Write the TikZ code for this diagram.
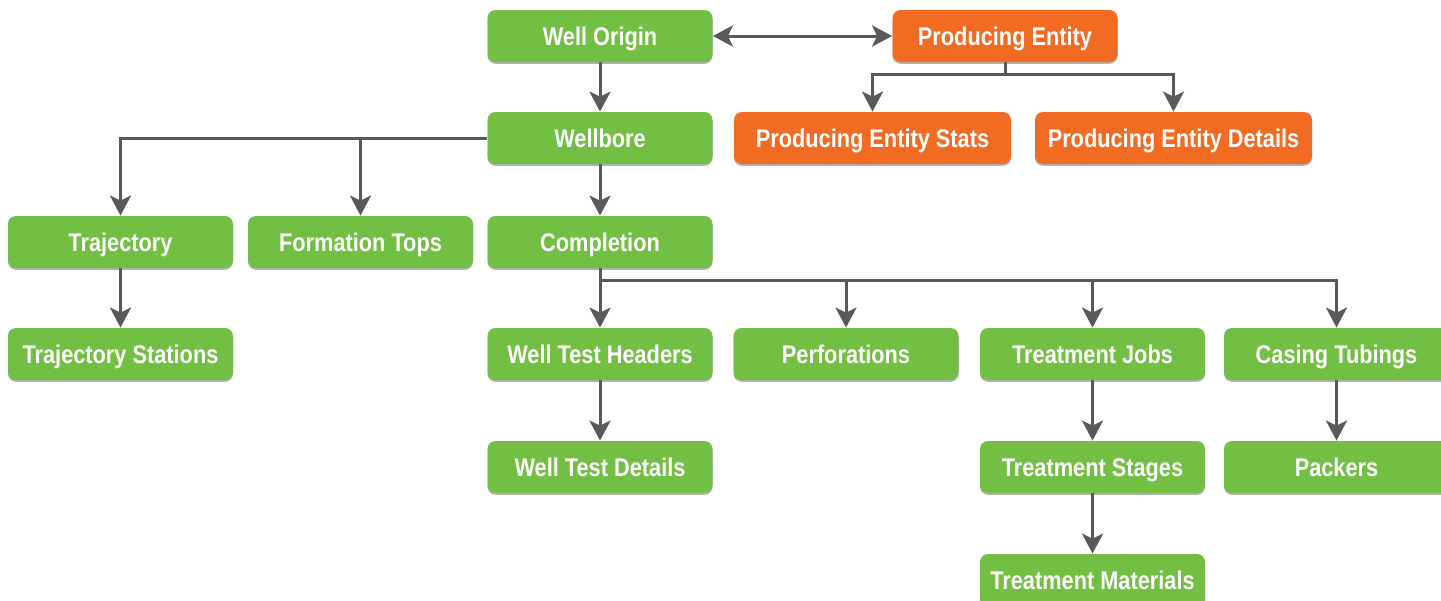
\documentclass[tikz,border=0pt]{standalone}
\usepackage{fontspec}
\setmainfont{Liberation Sans}[FakeStretch=0.85]
\usepackage{tikz}
\usetikzlibrary{arrows.meta,shadows}
\definecolor{wellgreen}{HTML}{72BF44}
\definecolor{prodorange}{HTML}{F26B23}
\definecolor{linegray}{HTML}{58595B}

\begin{document}
\begin{tikzpicture}[x=0.5pt, y=-0.5pt,
		>={Stealth[length=10pt, width=10.5pt, inset=2.5pt]},
		box/.style={rounded corners=4pt, minimum width=112.5pt, minimum height=26pt,
			inner sep=0pt, text height=9.2pt, text depth=0pt, text=white,
			font=\fontsize{12.8}{14}\selectfont\bfseries,
			drop shadow={shadow xshift=0pt, shadow yshift=-0.9pt, opacity=0.3, fill=black}},
		gbox/.style={box, fill=wellgreen},
		obox/.style={box, fill=prodorange},
		wbox/.style={obox, minimum width=138.5pt},
		link/.style={draw=linegray, line width=1.5pt},
		arr/.style={link, ->}]
		\path[use as bounding box, clip] (0,0) rectangle (1441,600);

		% well hierarchy
		\node[gbox] (origin) at (600,36) {Well Origin};
		\node[gbox] (bore) at (600,138) {Wellbore};
		\node[gbox] (traj) at (120.5,242) {Trajectory};
		\node[gbox] (tops) at (360.5,242) {Formation Tops};
		\node[gbox] (compl) at (600,242) {Completion};
		\node[gbox] (trajst) at (120.5,354) {Trajectory Stations};
		\node[gbox] (wth) at (600,354) {Well Test Headers};
		\node[gbox] (perf) at (846,354) {Perforations};
		\node[gbox] (tjobs) at (1092.5,354) {Treatment Jobs};
		\node[gbox] (casing) at (1336.5,354) {Casing Tubings};
		\node[gbox] (wtd) at (600,467) {Well Test Details};
		\node[gbox] (tstages) at (1092.5,467) {Treatment Stages};
		\node[gbox] (packers) at (1336.5,467) {Packers};
		\node[gbox] (tmat) at (1092.5,580) {Treatment Materials};

		% producing entity
		\node[obox] (prod) at (1005,36) {Producing Entity};
		\node[wbox] (pstats) at (872.5,138) {Producing Entity Stats};
		\node[wbox] (pdet) at (1173.5,138) {Producing Entity Details};

		\draw[link, <->] (origin.east) -- (prod.west);
		\draw[arr] (origin) -- (bore);
		\draw[link] (prod.south) -- ++(0,12) coordinate (pjoin);
		\draw[arr] (pjoin) -| (pstats.north);
		\draw[arr] (pjoin) -| (pdet.north);

		\draw[arr] (bore.west) -| (traj.north);
		\draw[arr] (bore.west -| tops) -- (tops.north);
		\draw[arr] (bore) -- (compl);
		\draw[arr] (traj) -- (trajst);

		\draw[link] (compl.south) -- ++(0,12) coordinate (cjoin);
		\draw[arr] (cjoin) -- (wth.north);
		\draw[arr] (cjoin) -| (perf.north);
		\draw[arr] (cjoin) -| (tjobs.north);
		\draw[arr] (cjoin) -| (casing.north);
		\draw[arr] (wth) -- (wtd);
		\draw[arr] (tjobs) -- (tstages);
		\draw[arr] (tstages) -- (tmat);
		\draw[arr] (casing) -- (packers);
	\end{tikzpicture}
\end{document}
